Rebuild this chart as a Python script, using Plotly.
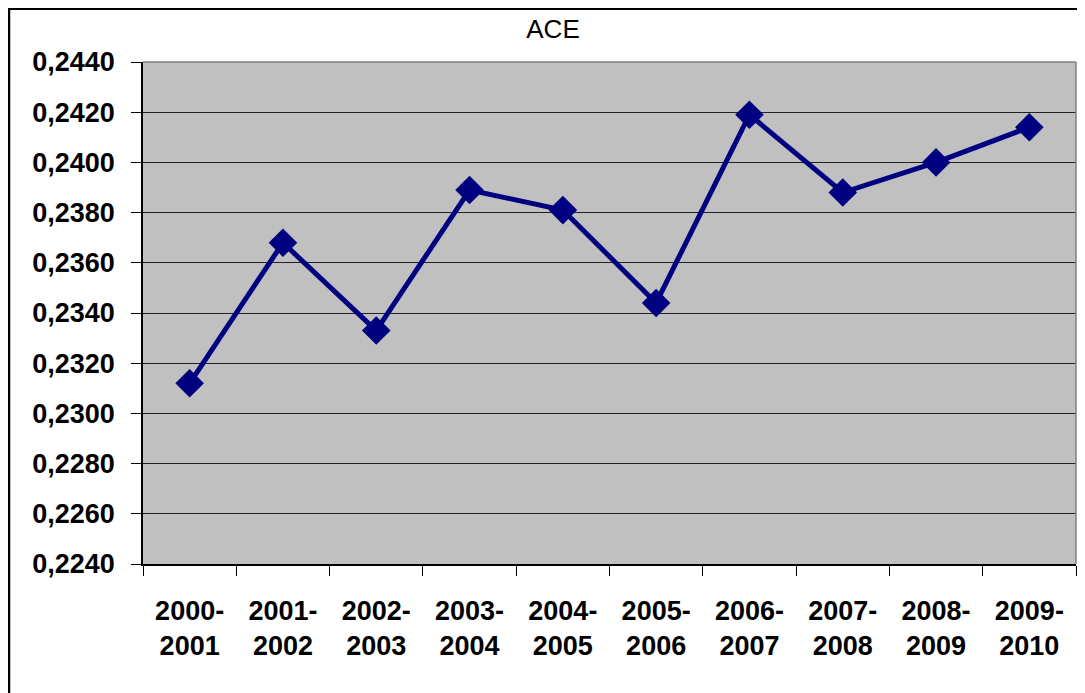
import plotly.graph_objects as go

categories = ["2000-2001", "2001-2002", "2002-2003", "2003-2004", "2004-2005",
              "2005-2006", "2006-2007", "2007-2008", "2008-2009", "2009-2010"]
ace_values = [0.2312, 0.2368, 0.2333, 0.2389, 0.2381,
              0.2344, 0.2419, 0.2388, 0.2400, 0.2414]
tick_labels = [c.replace("-", "-<br>") for c in categories]
y_ticks = [0.2240 + 0.0020 * i for i in range(11)]
y_tick_text = [("%.4f" % v).replace(".", ",") for v in y_ticks]

FONT = "Liberation Sans, Arial, sans-serif"

fig = go.Figure()
fig.add_trace(go.Scatter(
    x=categories, y=ace_values, mode="lines+markers",
    line=dict(color="#000080", width=5),
    marker=dict(symbol="diamond", size=22, color="#000080"),
    showlegend=False, hoverinfo="x+y",
))

# page body has an 8px margin, so figure coords are shifted by -8px
fig.update_layout(
    width=1085, height=693,
    margin=dict(l=135, r=17, t=54, b=137),
    paper_bgcolor="white", plot_bgcolor="#C0C0C0",
    font=dict(family=FONT, color="black"),
    title=dict(text="ACE", x=545 / 1085, xanchor="center", xref="container",
               y=1 - 21 / 693, yanchor="middle", yref="container",
               font=dict(size=26, color="black", family=FONT)),
)
fig.update_xaxes(
    type="category", tickmode="array", tickvals=categories, ticktext=tick_labels,
    tickson="boundaries", ticks="outside", ticklen=10, tickcolor="black",
    showgrid=False, showline=True, linecolor="black", linewidth=1.5,
    tickfont=dict(size=27, family=FONT, color="black", weight="bold"),
    ticklabelstandoff=22,
    range=[-0.5, 9.5],
)
fig.update_yaxes(
    range=[0.2240, 0.2440], tickmode="array", tickvals=y_ticks, ticktext=y_tick_text,
    ticks="outside", ticklen=10, tickcolor="black",
    showgrid=True, gridcolor="#222222", gridwidth=1,
    showline=True, linecolor="black", linewidth=1.5, zeroline=False,
    tickfont=dict(size=27, family=FONT, color="black", weight="bold"),
    ticklabelstandoff=11,
)
# top and right borders of plot area in gray
fig.add_shape(type="line", xref="paper", yref="paper", x0=0, x1=1, y0=1, y1=1,
              line=dict(color="#808080", width=1.5))
fig.add_shape(type="line", xref="paper", yref="paper", x0=1, x1=1, y0=0, y1=1,
              line=dict(color="#808080", width=1.5))
# outer chart border (left and top visible)
fig.add_shape(type="rect", xref="paper", yref="paper",
              x0=(1 - 135) / 933, x1=1.2, y0=-0.5, y1=1 + (54 - 0.8) / 502,
              line=dict(color="black", width=2.5), layer="above")

fig.write_html("out.html")
